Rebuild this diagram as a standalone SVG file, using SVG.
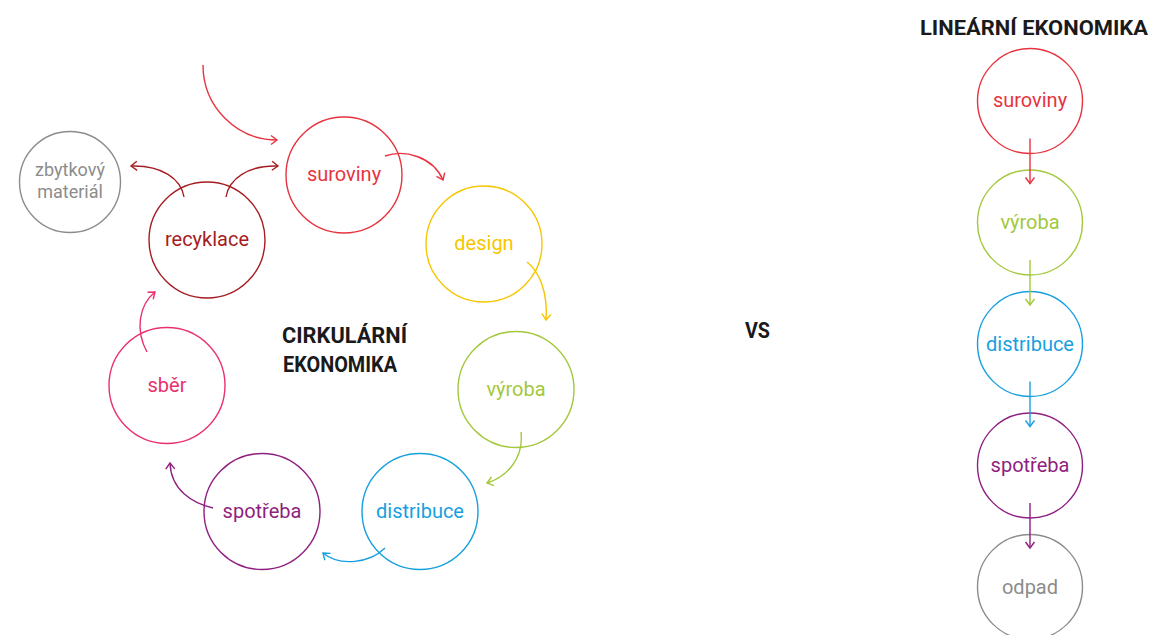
<svg xmlns="http://www.w3.org/2000/svg" width="1149" height="635" viewBox="0 0 1149 635">
<style>
  .c { fill: none; stroke-width: 1.4; }
  .lbl { font-family: Roboto, "Open Sans", sans-serif; font-size: 20px; text-anchor: middle; }
  .small { font-size: 18px; }
  .head { font-family: Roboto, "Open Sans", sans-serif; font-weight: bold; fill: #1a1a1a; }
  .a { fill: none; stroke-width: 1.4; }
  .red { stroke: #e8333f; } .tred { fill: #e8333f; }
  .yel { stroke: #f7c600; } .tyel { fill: #f7c600; }
  .grn { stroke: #a3c83c; } .tgrn { fill: #a3c83c; }
  .blu { stroke: #17a0e0; } .tblu { fill: #17a0e0; }
  .pur { stroke: #8f1f80; } .tpur { fill: #8f1f80; }
  .pnk { stroke: #e8316e; } .tpnk { fill: #e8316e; }
  .drd { stroke: #a51d22; } .tdrd { fill: #a51d22; }
  .gry { stroke: #8c8c8c; } .tgry { fill: #8c8c8c; }
</style>
<defs>
  <marker id="m-red" viewBox="-8 -6 10 12" markerWidth="10" markerHeight="12" refX="0" refY="0" markerUnits="userSpaceOnUse" orient="auto"><path d="M-6,-4.5 L0,0 L-6,4.5" fill="none" stroke="#e8333f" stroke-width="1.4"/></marker>
  <marker id="m-yel" viewBox="-8 -6 10 12" markerWidth="10" markerHeight="12" refX="0" refY="0" markerUnits="userSpaceOnUse" orient="auto"><path d="M-6,-4.5 L0,0 L-6,4.5" fill="none" stroke="#f7c600" stroke-width="1.4"/></marker>
  <marker id="m-grn" viewBox="-8 -6 10 12" markerWidth="10" markerHeight="12" refX="0" refY="0" markerUnits="userSpaceOnUse" orient="auto"><path d="M-6,-4.5 L0,0 L-6,4.5" fill="none" stroke="#a3c83c" stroke-width="1.4"/></marker>
  <marker id="m-blu" viewBox="-8 -6 10 12" markerWidth="10" markerHeight="12" refX="0" refY="0" markerUnits="userSpaceOnUse" orient="auto"><path d="M-6,-4.5 L0,0 L-6,4.5" fill="none" stroke="#17a0e0" stroke-width="1.4"/></marker>
  <marker id="m-pur" viewBox="-8 -6 10 12" markerWidth="10" markerHeight="12" refX="0" refY="0" markerUnits="userSpaceOnUse" orient="auto"><path d="M-6,-4.5 L0,0 L-6,4.5" fill="none" stroke="#8f1f80" stroke-width="1.4"/></marker>
  <marker id="m-pnk" viewBox="-8 -6 10 12" markerWidth="10" markerHeight="12" refX="0" refY="0" markerUnits="userSpaceOnUse" orient="auto"><path d="M-6,-4.5 L0,0 L-6,4.5" fill="none" stroke="#e8316e" stroke-width="1.4"/></marker>
  <marker id="m-drd" viewBox="-8 -6 10 12" markerWidth="10" markerHeight="12" refX="0" refY="0" markerUnits="userSpaceOnUse" orient="auto"><path d="M-6,-4.5 L0,0 L-6,4.5" fill="none" stroke="#a51d22" stroke-width="1.4"/></marker>
</defs>

<!-- Circular economy nodes -->
<g id="c-zbytkovy"><circle class="c gry" cx="70" cy="182" r="50.5"/><text class="lbl small tgry" x="70" y="176">zbytkový</text><text class="lbl small tgry" x="70" y="198">materiál</text></g>
<g id="c-recyklace"><circle class="c drd" cx="207" cy="240" r="58"/><text class="lbl tdrd" x="207" y="246">recyklace</text></g>
<g id="c-suroviny"><circle class="c red" cx="344" cy="175" r="58"/><text class="lbl tred" x="344" y="181">suroviny</text></g>
<g id="c-design"><circle class="c yel" cx="484" cy="244" r="58"/><text class="lbl tyel" x="484" y="250">design</text></g>
<g id="c-vyroba"><circle class="c grn" cx="516" cy="389.5" r="58"/><text class="lbl tgrn" x="516" y="396">výroba</text></g>
<g id="c-distribuce"><circle class="c blu" cx="420" cy="511.5" r="58"/><text class="lbl tblu" x="420" y="518">distribuce</text></g>
<g id="c-spotreba"><circle class="c pur" cx="262" cy="511.5" r="58"/><text class="lbl tpur" x="262" y="518">spotřeba</text></g>
<g id="c-sber"><circle class="c pnk" cx="167" cy="385.5" r="58"/><text class="lbl tpnk" x="167" y="392">sběr</text></g>

<g id="c-title">
  <text class="head" x="282" y="342.5" font-size="22" textLength="125" lengthAdjust="spacingAndGlyphs">CIRKULÁRNÍ</text>
  <text class="head" x="283" y="371.5" font-size="22" textLength="114" lengthAdjust="spacingAndGlyphs">EKONOMIKA</text>
</g>

<g id="vs"><text class="head" x="745" y="338" font-size="22" textLength="25" lengthAdjust="spacingAndGlyphs">VS</text></g>

<!-- Linear economy nodes -->
<g id="l-title"><text class="head" x="920" y="35" font-size="20" textLength="228" lengthAdjust="spacingAndGlyphs">LINEÁRNÍ EKONOMIKA</text></g>
<g id="l-suroviny"><circle class="c red" cx="1030" cy="101" r="52.5"/><text class="lbl tred" x="1030" y="107">suroviny</text></g>
<g id="l-vyroba"><circle class="c grn" cx="1030" cy="222.5" r="52.5"/><text class="lbl tgrn" x="1030" y="229">výroba</text></g>
<g id="l-distribuce"><circle class="c blu" cx="1030" cy="344" r="52.5"/><text class="lbl tblu" x="1030" y="350.5">distribuce</text></g>
<g id="l-spotreba"><circle class="c pur" cx="1030" cy="465.5" r="52.5"/><text class="lbl tpur" x="1030" y="472">spotřeba</text></g>
<g id="l-odpad"><circle class="c gry" cx="1030" cy="587" r="52.5"/><text class="lbl tgry" x="1030" y="593.5">odpad</text></g>

<!-- Connectors -->
<g id="connectors">
  <path class="a red" d="M203,65 A74,75 0 0,0 277,140" marker-end="url(#m-red)"/>
  <path class="a red" d="M385,156 C405,149 433,157 443,180" marker-end="url(#m-red)"/>
  <path class="a yel" d="M527,262 C540,272 548,294 546,320" marker-end="url(#m-yel)"/>
  <path class="a grn" d="M521,432 C524,458 507,477 487,483" marker-end="url(#m-grn)"/>
  <path class="a blu" d="M385,548 C370,563 340,567 323,553" marker-end="url(#m-blu)"/>
  <path class="a pur" d="M213,508 C192,503 171,490 170,463" marker-end="url(#m-pur)"/>
  <path class="a pnk" d="M147,352 C135,330 139,305 155,292" marker-end="url(#m-pnk)"/>
  <path class="a drd" d="M184,197 C181,179 162,165 131,166" marker-end="url(#m-drd)"/>
  <path class="a drd" d="M226,197 C229,179 248,165 278,166" marker-end="url(#m-drd)"/>

  <path class="a red" d="M1030,138.5 L1030,183.5" marker-end="url(#m-red)"/>
  <path class="a grn" d="M1030,260 L1030,305" marker-end="url(#m-grn)"/>
  <path class="a blu" d="M1030,381.5 L1030,426.5" marker-end="url(#m-blu)"/>
  <path class="a pur" d="M1030,503 L1030,548" marker-end="url(#m-pur)"/>
</g>
</svg>
